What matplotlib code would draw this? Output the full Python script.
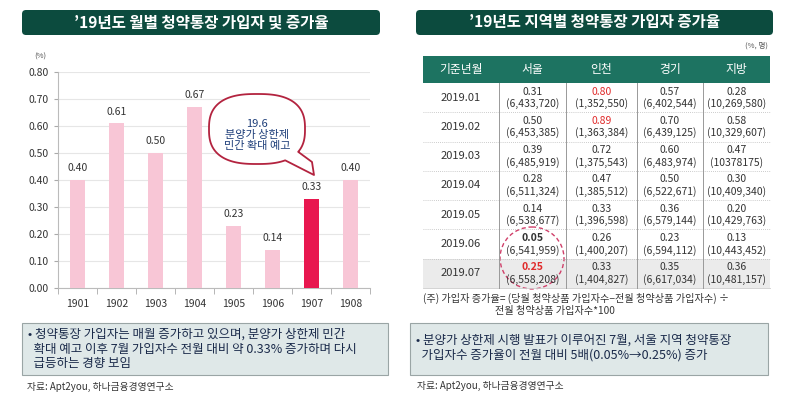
import numpy as np
import matplotlib
matplotlib.use("Agg")
import matplotlib.pyplot as plt
from matplotlib.patches import FancyBboxPatch, Rectangle, Ellipse, PathPatch
from matplotlib.path import Path

plt.rcParams['font.family'] = ['Noto Sans CJK KR', 'DejaVu Sans']

# ---------------- data ----------------
months = ['1901', '1902', '1903', '1904', '1905', '1906', '1907', '1908']
rates = [0.40, 0.61, 0.50, 0.67, 0.23, 0.14, 0.33, 0.40]
highlight_month = '1907'
yticks = [0.00, 0.10, 0.20, 0.30, 0.40, 0.50, 0.60, 0.70, 0.80]

table_header = ['기준년월', '서울', '인천', '경기', '지방']
dates = ['2019.01', '2019.02', '2019.03', '2019.04', '2019.05', '2019.06', '2019.07']
seoul_rate = ['0.31', '0.50', '0.39', '0.28', '0.14', '0.05', '0.25']
seoul_n = ['6,433,720', '6,453,385', '6,485,919', '6,511,324', '6,538,677', '6,541,959', '6,558,208']
incheon_rate = ['0.80', '0.89', '0.72', '0.47', '0.33', '0.26', '0.33']
incheon_n = ['1,352,550', '1,363,384', '1,375,543', '1,385,512', '1,396,598', '1,400,207', '1,404,827']
gyeonggi_rate = ['0.57', '0.70', '0.60', '0.50', '0.36', '0.23', '0.35']
gyeonggi_n = ['6,402,544', '6,439,125', '6,483,974', '6,522,671', '6,579,144', '6,594,112', '6,617,034']
jibang_rate = ['0.28', '0.58', '0.47', '0.30', '0.20', '0.13', '0.36']
jibang_n = ['10,269,580', '10,329,607', '10378175', '10,409,340', '10,429,763', '10,443,452', '10,481,157']
red_cells = [(0, 2), (1, 2), (6, 1)]
bold_cells = [(5, 1), (6, 1)]

left_title = "’19년도 월별 청약통장 가입자 및 증가율"
right_title = "’19년도 지역별 청약통장 가입자 증가율"
bubble_text = "19.6\n분양가 상한제\n민간 확대 예고"
left_note = ("• 청약통장 가입자는 매월 증가하고 있으며, 분양가 상한제 민간\n"
             "  확대 예고 이후 7월 가입자수 전월 대비 약 0.33% 증가하며 다시\n"
             "  급등하는 경향 보임")
right_note = ("• 분양가 상한제 시행 발표가 이루어진 7월, 서울 지역 청약통장\n"
              "  가입자수 증가율이 전월 대비 5배(0.05%→0.25%) 증가")
formula1 = "(주) 가입자 증가율= (당월 청약상품 가입자수−전월 청약상품 가입자수) ÷"
formula2 = "전월 청약상품 가입자수*100"
source = "자료: Apt2you, 하나금융경영연구소"

# ---------------- figure ----------------
W, H = 800, 393
fig = plt.figure(figsize=(8, 3.93), dpi=100)
fig.patch.set_facecolor('white')

def fy(y):  # pixel from top -> figure fraction
    return (H - y) / H

# bar chart axes
ax = fig.add_axes([58 / W, fy(288), (370 - 58) / W, (288 - 72) / H])
x = np.arange(len(months))
colors = ['#e8174f' if m == highlight_month else '#f8c6d6' for m in months]
ax.bar(x, rates, width=0.4, color=colors, zorder=3)
for xi, v in zip(x, rates):
    ax.text(xi, v + 0.025, f"{v:.2f}", ha='center', va='bottom', fontsize=7.5, color='#333333', zorder=4)
ax.set_xlim(-0.5, len(months) - 0.5)
ax.set_ylim(0, 0.8)
ax.set_yticks(yticks)
ax.set_yticklabels([f"{t:.2f}" for t in yticks], fontsize=7.5, color='#333333')
ax.set_xticks(x)
ax.set_xticklabels(months, fontsize=7.5, color='#333333')
ax.tick_params(axis='x', length=0, pad=8)
ax.set_xticks(np.arange(len(months) + 1) - 0.5, minor=True)
ax.tick_params(axis='x', which='minor', length=4, color='#aaaaaa', direction='out')
ax.tick_params(axis='y', length=3, color='#aaaaaa', pad=4)
ax.grid(axis='y', color='#e6e6e6', linewidth=0.8, zorder=0)
for s in ['top', 'right']:
    ax.spines[s].set_visible(False)
ax.spines['left'].set_color('#bbbbbb')
ax.spines['bottom'].set_color('#bbbbbb')
ax.set_facecolor('none')

# overlay axes in pixel coordinates
ov = fig.add_axes([0, 0, 1, 1], zorder=5)
ov.set_xlim(0, W)
ov.set_ylim(H, 0)
ov.axis('off')
ov.patch.set_alpha(0)

title_c = '#0c4b3e'
header_c = '#1d7361'

# titles
for (x0, x1, t) in [(22, 380, left_title), (416, 773, right_title)]:
    ov.add_patch(FancyBboxPatch((x0, 10), x1 - x0, 25, boxstyle="round,pad=0,rounding_size=4",
                                fc=title_c, ec='none'))
    ov.text((x0 + x1) / 2, 22.5, t, ha='center', va='center', color='white',
            fontsize=11.2, fontweight='bold')

ov.text(40, 57, "(%)", fontsize=5.5, color='#555555', ha='center', va='center')

# speech bubble (pixel coords, y down)
cx, cy, a, b = 257, 129, 48, 35
n = 2.6
th = np.linspace(np.deg2rad(-35), np.deg2rad(300), 240)
px = cx + a * np.sign(np.cos(th)) * np.abs(np.cos(th)) ** (2 / n)
py = cy - b * np.sign(np.sin(th)) * np.abs(np.sin(th)) ** (2 / n)
verts = list(zip(px, py))
verts += [(314, 175), (312, 162)]
verts.append(verts[0])
codes = [Path.MOVETO] + [Path.LINETO] * (len(verts) - 2) + [Path.CLOSEPOLY]
ov.add_patch(PathPatch(Path(verts, codes), fc='white', ec='#b3233f', lw=1.3, joinstyle='round'))
ov.text(cx, cy + 6, bubble_text, ha='center', va='center', fontsize=8, color='#1f3f7a',
        linespacing=1.15, fontweight='medium')

# text boxes
for (x0, x1, t, y_t) in [(22, 388, left_note, 349), (410, 768, right_note, 348)]:
    ov.add_patch(Rectangle((x0, 323), x1 - x0, 52, fc='#dfe8e8', ec='#9aa5a5', lw=0.8))
    ov.text(x0 + 6, y_t, t, ha='left', va='center', fontsize=9.0, color='#1a2a4a', linespacing=1.2)

ov.text(27, 387, source, fontsize=7, color='#333333', va='center')
ov.text(417, 386, source, fontsize=7, color='#333333', va='center')

# table
ov.text(768, 46, "(%, 명)", fontsize=5.5, color='#555555', ha='right', va='center')
col_edges = [423, 499, 566, 637, 703, 770]
head_top, head_bot = 56, 83
row_h = (288 - head_bot) / len(dates)
ov.add_patch(Rectangle((col_edges[0], head_top), col_edges[-1] - col_edges[0], head_bot - head_top,
                       fc=header_c, ec='none'))
for j, h in enumerate(table_header):
    ov.text((col_edges[j] + col_edges[j + 1]) / 2, (head_top + head_bot) / 2, h, ha='center',
            va='center', color='white', fontsize=8.5)
ov.add_patch(Rectangle((col_edges[0], head_bot + 6 * row_h), col_edges[-1] - col_edges[0], row_h,
                       fc='#ebebeb', ec='none'))
cols = [(seoul_rate, seoul_n), (incheon_rate, incheon_n), (gyeonggi_rate, gyeonggi_n), (jibang_rate, jibang_n)]
for i, d in enumerate(dates):
    y0 = head_bot + i * row_h
    yc = y0 + row_h / 2
    ov.text((col_edges[0] + col_edges[1]) / 2, yc, d, ha='center', va='center', fontsize=8, color='#333333')
    for j, (rr, nn) in enumerate(cols, start=1):
        xc = (col_edges[j] + col_edges[j + 1]) / 2
        col = '#e02b2b' if (i, j) in red_cells else '#333333'
        fw = 'bold' if (i, j) in bold_cells else 'normal'
        ov.text(xc, yc - 6, rr[i], ha='center', va='center', fontsize=7.5, color=col, fontweight=fw)
        ov.text(xc, yc + 6, f"({nn[i]})", ha='center', va='center', fontsize=7.5, color='#333333')
    if i < len(dates) - 1:
        ov.plot([col_edges[0], col_edges[-1]], [y0 + row_h] * 2, color='#bbbbbb', lw=0.6, ls=(0, (1, 1.5)))
ov.plot([col_edges[0], col_edges[-1]], [288, 288], color='#cccccc', lw=0.6)
for xe in col_edges[1:-1]:
    ov.plot([xe, xe], [head_bot, 288], color='#999999', lw=0.7)

ov.add_patch(Ellipse((532, 258), 64, 62, fc='none', ec='#d0406a', lw=1.0, ls=(0, (3, 2))))

ov.text(423, 298, formula1, fontsize=7.3, color='#333333', va='center', ha='left')
ov.text(555, 311, formula2, fontsize=7.3, color='#333333', va='center', ha='center')

fig.savefig('out.png', dpi=100, facecolor='white')
